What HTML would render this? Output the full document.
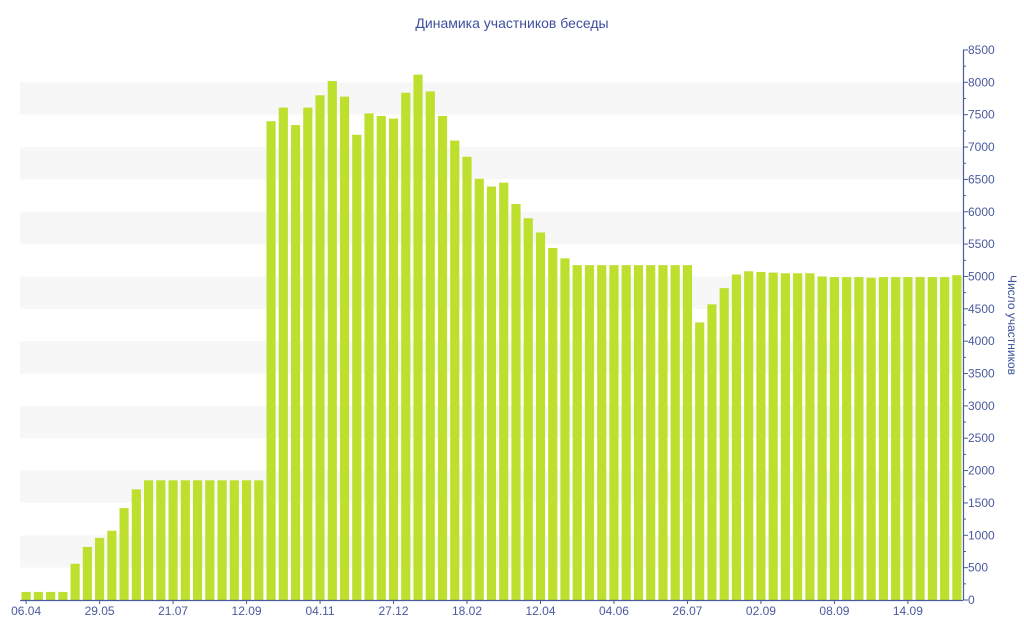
<!DOCTYPE html>
<html><head><meta charset="utf-8"><style>
body{margin:0;background:#fff;}
svg{display:block;font-family:"Liberation Sans","DejaVu Sans",sans-serif;}
</style></head><body>
<svg id="chart" width="1024" height="640">
<text x="512" y="28" text-anchor="middle" font-size="14" fill="#3d4f9f">Динамика участников беседы</text>
<g id="bands"></g><g id="bars"></g><g id="axes"></g>
<text transform="translate(1008,325) rotate(90)" text-anchor="middle" font-size="12" fill="#3d4f9f">Число участников</text>
</svg>
<script>
const values=[125,125,125,125,560,820,960,1070,1420,1710,1850,1850,1850,1850,1850,1850,1850,1850,1850,1850,
7400,7610,7340,7610,7800,8020,7780,7190,7520,7480,7440,7840,8120,7860,7480,7100,6850,6510,6390,6450,6120,5900,5680,5440,5280,
5175,5175,5175,5175,5175,5175,5175,5175,5175,5175,4290,4570,4820,5030,5080,5070,5060,5050,5050,5050,5000,4990,4990,4990,4980,4990,4990,4990,4990,4990,4990,5020];
const tickLabels=["06.04","29.05","21.07","12.09","04.11","27.12","18.02","12.04","04.06","26.07","02.09","08.09","14.09"];
const yTicks=[0,500,1000,1500,2000,2500,3000,3500,4000,4500,5000,5500,6000,6500,7000,7500,8000,8500];
const X0=20,X1=963,Y0=600,YMAX=8500,YTOP=50;
const band=(X1-X0)/values.length;
const y=v=>Y0-(v/YMAX)*(Y0-YTOP);
const xc=i=>X0+band*(i+0.5);
const NS="http://www.w3.org/2000/svg";
function mk(t,p,a){const e=document.createElementNS(NS,t);for(const k in a)e.setAttribute(k,a[k]);p.appendChild(e);return e;}
const gB=document.getElementById('bands'),gR=document.getElementById('bars'),gA=document.getElementById('axes');
for(let v=500;v<8500;v+=1000){
 const r=mk('rect',gB,{x:X0,y:y(v+500),width:X1-X0,height:y(v)-y(v+500),fill:'#f7f7f7'});
 
 
}
values.forEach((v,i)=>{
 const w=band*0.75;
 const r=mk('rect',gR,{x:xc(i)-w/2,y:y(v),width:w,height:Y0-y(v),fill:'#bde02f'});
 
 
});
const ax=mk('line',gA,{x1:X0,y1:Y0+0.5,x2:X1,y2:Y0+0.5,stroke:'#4a5a9f','stroke-width':1.2});


const ay=mk('line',gA,{x1:X1+0.5,y1:YTOP,x2:X1+0.5,y2:Y0,stroke:'#4a5a9f','stroke-width':1.2});


tickLabels.forEach((l,k)=>{
 const i=k*6;
 mk('line',gA,{x1:xc(i),y1:Y0,x2:xc(i),y2:Y0+4,stroke:'#4a5a9f'});
 const t=mk('text',gA,{x:xc(i),y:Y0+15,'text-anchor':'middle','font-size':12,fill:'#4a5a9f'});
 t.textContent=l;
 
 
});
for(let v=0;v<=8500;v+=250){
 mk('line',gA,{x1:X1,y1:y(v),x2:X1+(v%500?3:5),y2:y(v),stroke:'#4a5a9f'});
}
yTicks.forEach(v=>{
 const t=mk('text',gA,{x:X1+5,y:y(v)+4,'font-size':12,fill:'#4a5a9f'});
 t.textContent=v;
 
 
});
</script>
</body></html>
